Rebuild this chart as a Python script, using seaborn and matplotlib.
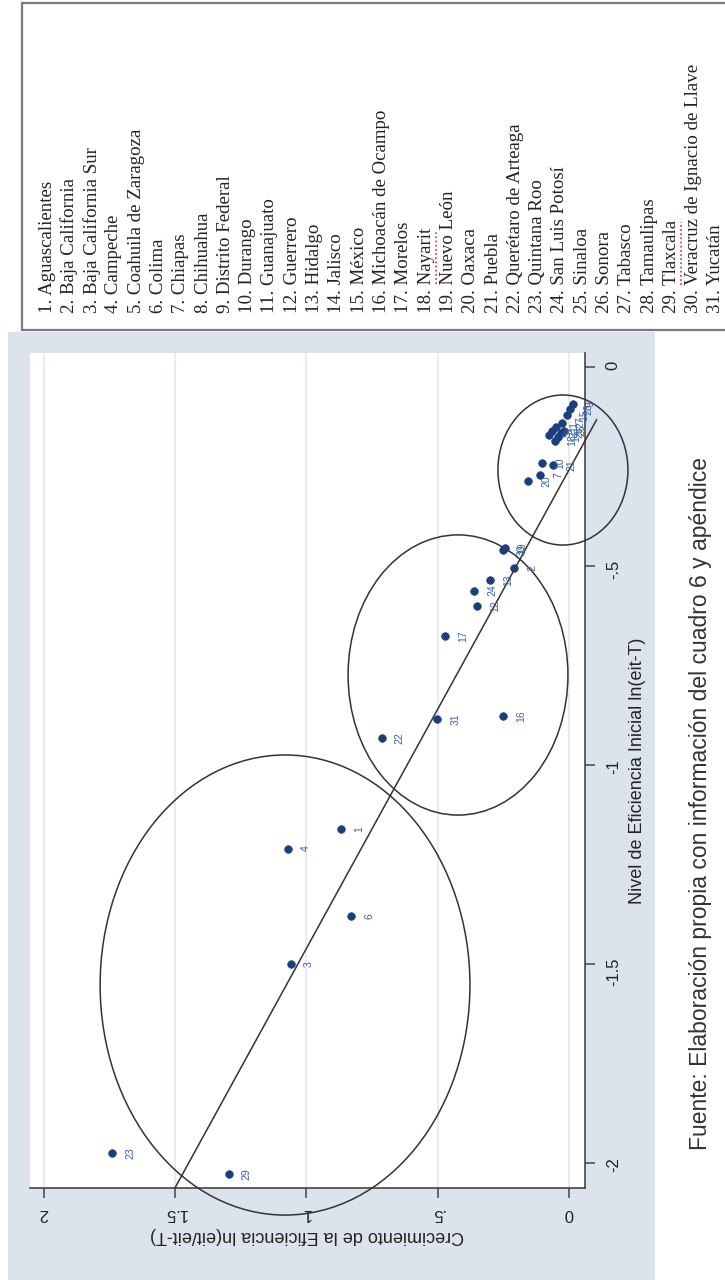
import numpy as np
import pandas as pd
import seaborn as sns
import matplotlib.pyplot as plt
from matplotlib.patches import Ellipse, Rectangle
from matplotlib.lines import Line2D

# estados (numero de la lista) y valores
estados = ['Aguascalientes', 'Baja California', 'Baja California Sur', 'Campeche',
           'Coahuila de Zaragoza', 'Colima', 'Chiapas', 'Chihuahua', 'Distrito Federal',
           'Durango', 'Guanajuato', 'Guerrero', 'Hidalgo', 'Jalisco', 'México',
           'Michoacán de Ocampo', 'Morelos', 'Nayarit', 'Nuevo León', 'Oaxaca', 'Puebla',
           'Querétaro de Arteaga', 'Quintana Roo', 'San Luis Potosí', 'Sinaloa', 'Sonora',
           'Tabasco', 'Tamaulipas', 'Tlaxcala', 'Veracruz de Ignacio de Llave', 'Yucatán']
numero = list(range(1, 32))
crecimiento = [0.869, 0.208, 1.06, 1.07, 0.075, 0.83, 0.110, 0.065, -0.014, 0.104,
               0.050, 0.351, 0.301, 0.040, 0.009, 0.252, 0.472, 0.055, 0.245, 0.155,
               0.060, 0.713, 1.740, 0.360, 0.030, 0.020, 0.025, -0.005, 1.296, 0.250,
               0.501]
nivel = [-1.161, -0.506, -1.50, -1.21, -0.170, -1.38, -0.271, -0.160, -0.093, -0.242,
         -0.150, -0.600, -0.535, -0.175, -0.121, -0.877, -0.676, -0.185, -0.455, -0.286,
         -0.246, -0.933, -1.976, -0.562, -0.165, -0.160, -0.140, -0.105, -2.028, -0.461,
         -0.884]
subrayados = [18, 29]  # marcados por el corrector ortografico

# linea de tendencia dibujada a mano: nivel = a + b*crecimiento
linea_v = [1.5, -0.105]
linea_a, linea_b = -0.259, -1.2025

# circulos de grupos (centro crec, centro nivel, ancho, alto)
grupos = [(1.081, -1.553, 1.408, 1.156),
          (0.4225, -0.774, 0.837, 0.704),
          (0.023, -0.259, 0.495, 0.377)]

nivel_ticks = [0, -0.5, -1, -1.5, -2]
nivel_ticklabels = ['0', '-.5', '-1', '-1.5', '-2']
crec_ticks = [0, 0.5, 1, 1.5, 2]
crec_ticklabels = ['0', '.5', '1', '1.5', '2']

df = pd.DataFrame({'num': numero, 'crec': crecimiento, 'nivel': nivel})

W, H = 725, 1280
fig = plt.figure(figsize=(W / 100, H / 100), dpi=100)
sans = ['Liberation Sans', 'DejaVu Sans']
serif = ['Liberation Serif', 'DejaVu Serif']

# fondo gris azulado de la grafica
fig.patches.append(Rectangle((8 / W, 0), (655 - 8) / W, 1 - 332 / H,
                             transform=fig.transFigure, facecolor='#dce3ec',
                             edgecolor='none', zorder=-2))
# recuadro de la lista de estados
fig.patches.append(Rectangle((22 / W, 1 - 330 / H), 0.99, (330 - 3) / H,
                             transform=fig.transFigure, facecolor='white',
                             edgecolor='#7a7a7a', linewidth=1.6, zorder=-1))

lista = []
for i, (n, e) in enumerate(zip(numero, estados)):
    t = fig.text((47 + 22.3 * i) / W, 1 - 313 / H, f'{n}. {e}', rotation=90,
                 ha='center', va='bottom', fontsize=13.6, family=serif, color='#222222')
    lista.append(t)

fig.text(700 / W, 1 - 1150 / H,
         'Fuente: Elaboración propia con información del cuadro 6 y apéndice',
         rotation=90, ha='center', va='bottom', fontsize=16.5, family=sans, color='#333333')

# subrayado rojo punteado bajo los nombres marcados
fig.canvas.draw()
rend = fig.canvas.get_renderer()
for n in subrayados:
    t = lista[n - 1]
    bb = t.get_window_extent(rend)
    tmp = fig.text(0, 0, f'{n}. ', fontsize=13.6, family=serif)
    pre = tmp.get_window_extent(rend).width
    tmp.remove()
    fig.add_artist(Line2D([(bb.x1 + 1) / W] * 2, [(bb.y0 + pre) / H, (bb.y1 - 2) / H],
                          transform=fig.transFigure, color='#e03030', lw=1.2,
                          linestyle=(0, (1, 1.5))))

ax = fig.add_axes([30 / W, 1 - 1188 / H, (585 - 30) / W, (1188 - 353) / H])
ax.set_zorder(2)
ax.set_facecolor('white')

sns.scatterplot(data=df, x='crec', y='nivel', ax=ax, color='#1a3f7a', s=30,
                edgecolor='#1a3f7a', linewidth=0.5, zorder=4, legend=False)
for _, r in df.iterrows():
    ax.annotate(str(int(r['num'])), (r['crec'], r['nivel']), xytext=(13, 0),
                textcoords='offset points', rotation=90, ha='center', va='center',
                fontsize=7.5, color='#3a62a8', family=sans, zorder=5)

lv = np.array(linea_v)
ax.plot(lv, linea_a + linea_b * lv, color='#333333', lw=1.1, clip_on=False, zorder=3)
for cx, cy, w, h in grupos:
    ax.add_patch(Ellipse((cx, cy), w, h, fill=False, edgecolor='#333333',
                         lw=1.1, clip_on=False, zorder=3))

ax.set_xlim(2.052, -0.061)
ax.set_ylim(-2.063, 0.035)
ax.set_xticks(crec_ticks)
ax.set_xticklabels(crec_ticklabels)
ax.set_yticks(nivel_ticks)
ax.set_yticklabels(nivel_ticklabels)
for v in crec_ticks:
    ax.axvline(v, color='#e3e9f0', lw=1.2, zorder=1)

for s in ['top', 'left']:
    ax.spines[s].set_visible(False)
for s in ['bottom', 'right']:
    ax.spines[s].set_color('#444444')
    ax.spines[s].set_linewidth(1.2)

ax.yaxis.tick_right()
ax.yaxis.set_label_position('right')
ax.tick_params(axis='y', direction='out', length=7, width=1.1, color='#444444',
               labelrotation=90, labelsize=12, pad=8)
ax.tick_params(axis='x', direction='out', length=7, width=1.1, color='#444444',
               labelrotation=180, labelsize=12, pad=6)
for t in ax.get_xticklabels() + ax.get_yticklabels():
    t.set_family(sans)
    t.set_color('#222222')

ax.set_ylabel('Nivel de Eficiencia Inicial ln(eit-T)', rotation=90, fontsize=13,
              family=sans, color='#222222', labelpad=6)
ax.set_xlabel('Crecimiento de la Eficiencia ln(eit/eit-T)', rotation=180, fontsize=13,
              family=sans, color='#222222', labelpad=4)

fig.savefig('out.png', dpi=100)
